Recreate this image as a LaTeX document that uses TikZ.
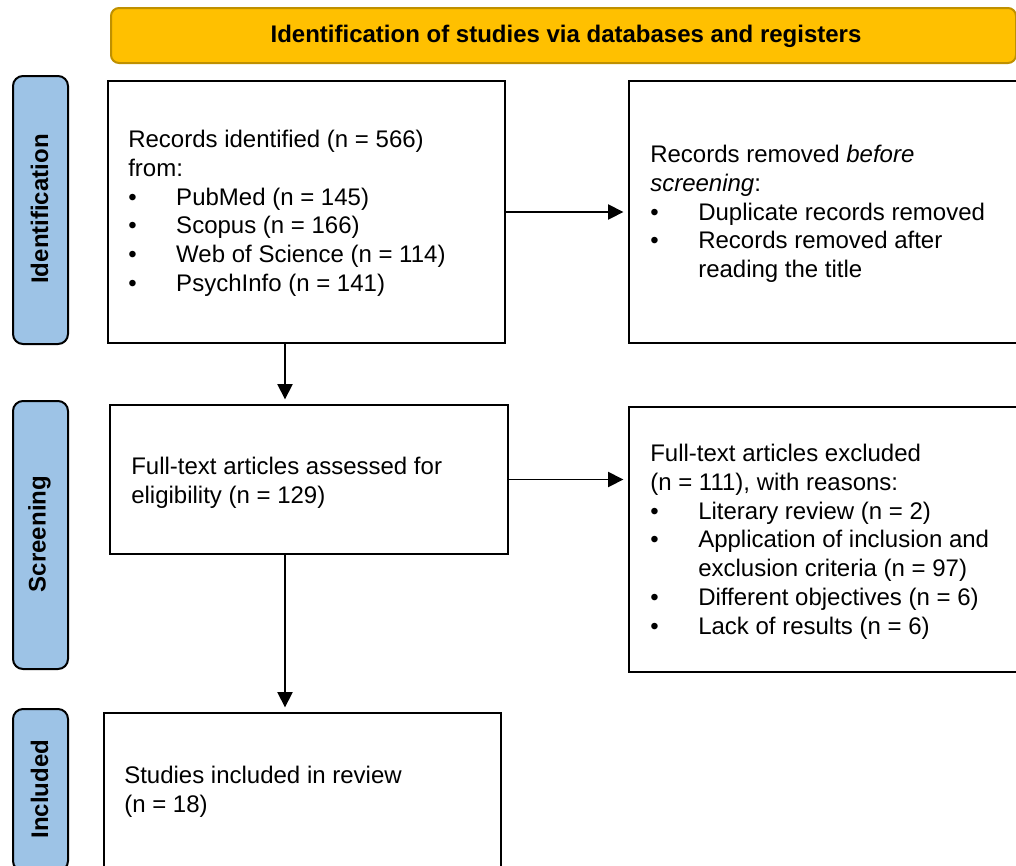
\documentclass[tikz,border=0pt]{standalone}
\usepackage{fontspec}
\setmainfont{Liberation Sans}
\usetikzlibrary{arrows.meta}
\definecolor{bannerfill}{HTML}{FFC000}
\definecolor{bannerline}{HTML}{BF9000}
\definecolor{sidefill}{HTML}{9DC3E6}
\newcommand{\bl}{\makebox[36pt][l]{\textbullet}}
\begin{document}
\begin{tikzpicture}[x=0.75pt,y=-0.75pt,
  every node/.style={font=\fontsize{18}{21.6}\selectfont},
  box/.style={draw, line width=1.5pt, rectangle, inner sep=0pt, anchor=north west},
  side/.style={draw, line width=1.5pt, fill=sidefill, rounded corners=7.5pt, inner sep=0pt, anchor=north west, minimum width=41.25pt},
  sidetext/.style={rotate=90, font=\fontsize{18}{21.6}\selectfont\bfseries},
  txt/.style={anchor=north west, align=left, inner sep=0pt},
  arr/.style={-{Triangle[length=11.5pt,width=11.5pt]}, line width=1pt, shorten >=3.5pt}]
\useasboundingbox (0,0) rectangle (1016,865);
% banner
\node[draw=bannerline, line width=1.5pt, fill=bannerfill, rounded corners=6pt, inner sep=0pt,
  anchor=north west, minimum width=678.75pt, minimum height=41.25pt] (banner) at (110,7) {};
\node[font=\fontsize{18}{21.6}\selectfont\bfseries] (bannertext) at (566,36) {Identification of studies via databases and registers};
% side labels
\node[side, minimum height=201pt] (side1) at (12,75) {};
\node[sidetext] (side1t) at (39.5,209) {Identification};
\node[side, minimum height=201pt] (side2) at (12,400) {};
\node[sidetext] (side2t) at (39.5,534) {Screening};
\node[side, minimum height=121.5pt] (side3) at (12,708) {};
\node[sidetext] (side3t) at (39.5,789) {Included};
% boxes
\node[box, minimum width=297.75pt, minimum height=196.5pt] (box1) at (107,80) {};
\node[box, minimum width=315pt, minimum height=196.5pt] (box2) at (628,80) {};
\node[box, minimum width=298.5pt, minimum height=111.75pt] (box3) at (109,404) {};
\node[box, minimum width=315pt, minimum height=198.75pt] (box4) at (628,406) {};
\node[box, minimum width=297.75pt, minimum height=120pt] (box5) at (103,712) {};
% texts
\node[txt] (t1) at (128,127) {\strut Records identified (n = 566)\\from:\\
  \bl PubMed (n = 145)\\ \bl Scopus (n = 166)\\ \bl Web of Science (n = 114)\\ \bl PsychInfo (n = 141)};
\node[txt] (t2) at (650,142) {\strut Records removed \textit{before}\\\textit{screening}:\\
  \bl Duplicate records removed\\ \bl Records removed after\\ \hspace*{36pt}reading the title};
\node[txt] (t3) at (131,454) {\strut Full-text articles assessed for\\eligibility (n = 129)};
\node[txt] (t4) at (650,441) {\strut Full-text articles excluded\\(n = 111), with reasons:\\
  \bl Literary review (n = 2)\\ \bl Application of inclusion and\\ \hspace*{36pt}exclusion criteria (n = 97)\\
  \bl Different objectives (n = 6)\\ \bl Lack of results (n = 6)};
\node[txt] (t5) at (124,763) {\strut Studies included in review\\(n = 18)};
% connectors
\coordinate (ax) at (285,0);
\draw[arr] (box1.east) -- (box2.west);
\draw[arr] (box3.east) -- (box3.east -| box4.west);
\draw[arr] (box1.south -| ax) -- (box3.north -| ax);
\draw[arr] (box3.south -| ax) -- (box5.north -| ax);
\end{tikzpicture}
\end{document}
